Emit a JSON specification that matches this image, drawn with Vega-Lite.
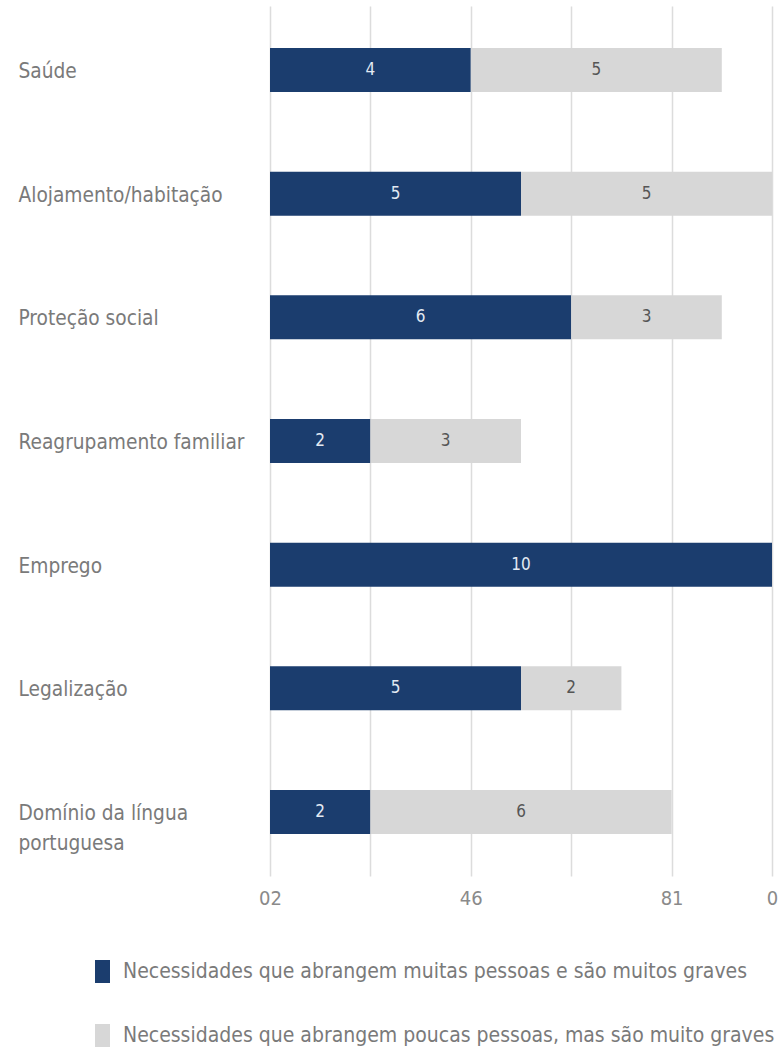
{
  "$schema": "https://vega.github.io/schema/vega-lite/v6.json",
  "width": 502,
  "height": 870,
  "autosize": {"type": "none"},
  "padding": {"left": 270, "top": 6, "right": 11, "bottom": 175},
  "background": "white",
  "data": {
    "values": [
      {"cat": "Saúde", "serie": "Necessidades que abrangem muitas pessoas e são muitos graves", "ord": 1, "v": 4},
      {"cat": "Saúde", "serie": "Necessidades que abrangem poucas pessoas, mas são muito graves", "ord": 2, "v": 5},
      {"cat": "Alojamento/habitação", "serie": "Necessidades que abrangem muitas pessoas e são muitos graves", "ord": 1, "v": 5},
      {"cat": "Alojamento/habitação", "serie": "Necessidades que abrangem poucas pessoas, mas são muito graves", "ord": 2, "v": 5},
      {"cat": "Proteção social", "serie": "Necessidades que abrangem muitas pessoas e são muitos graves", "ord": 1, "v": 6},
      {"cat": "Proteção social", "serie": "Necessidades que abrangem poucas pessoas, mas são muito graves", "ord": 2, "v": 3},
      {"cat": "Reagrupamento familiar", "serie": "Necessidades que abrangem muitas pessoas e são muitos graves", "ord": 1, "v": 2},
      {"cat": "Reagrupamento familiar", "serie": "Necessidades que abrangem poucas pessoas, mas são muito graves", "ord": 2, "v": 3},
      {"cat": "Emprego", "serie": "Necessidades que abrangem muitas pessoas e são muitos graves", "ord": 1, "v": 10},
      {"cat": "Legalização", "serie": "Necessidades que abrangem muitas pessoas e são muitos graves", "ord": 1, "v": 5},
      {"cat": "Legalização", "serie": "Necessidades que abrangem poucas pessoas, mas são muito graves", "ord": 2, "v": 2},
      {"cat": "Domínio da língua|portuguesa", "serie": "Necessidades que abrangem muitas pessoas e são muitos graves", "ord": 1, "v": 2},
      {"cat": "Domínio da língua|portuguesa", "serie": "Necessidades que abrangem poucas pessoas, mas são muito graves", "ord": 2, "v": 6}
    ]
  },
  "transform": [
    {"stack": "v", "groupby": ["cat"], "sort": [{"field": "ord"}], "as": ["v0", "v1"]},
    {"calculate": "(datum.v0 + datum.v1) / 2", "as": "vmid"}
  ],
  "config": {
    "view": {"stroke": null},
    "font": "DejaVu Sans Condensed, Roboto, sans-serif"
  },
  "encoding": {
    "y": {
      "field": "cat",
      "type": "nominal",
      "sort": null,
      "scale": {"paddingInner": 0.644, "paddingOuter": 0.34},
      "axis": {
        "title": null,
        "domain": false,
        "ticks": false,
        "labelAlign": "left",
        "labelPadding": 252,
        "labelFontSize": 20.7,
        "labelColor": "#7a7a7a",
        "labelFont": "DejaVu Sans Condensed, Roboto, sans-serif",
        "labelLineHeight": 30,
        "labelLimit": 300,
        "labelOffset": 2,
        "labelExpr": "split(datum.label, '|')"
      }
    }
  },
  "layer": [
    {
      "mark": {"type": "bar"},
      "encoding": {
        "x": {
          "field": "v0",
          "type": "quantitative",
          "scale": {"domain": [0, 10], "nice": false},
          "axis": {
            "title": null,
            "values": [0, 2, 4, 6, 8, 10],
            "domain": false,
            "ticks": false,
            "grid": true,
            "gridColor": "#dcdcdc",
            "gridWidth": 1.5,
            "labelFlush": false,
            "labelPadding": 12,
            "labelFontSize": 20,
            "labelColor": "#8a8a8a",
            "labelFont": "DejaVu Sans Condensed, Roboto, sans-serif",
            "labelExpr": "datum.value == 0 ? '02' : datum.value == 4 ? '46' : datum.value == 8 ? '81' : datum.value == 10 ? '0' : ''"
          }
        },
        "x2": {"field": "v1"},
        "color": {
          "field": "serie",
          "type": "nominal",
          "sort": null,
          "scale": {
            "domain": ["Necessidades que abrangem muitas pessoas e são muitos graves", "Necessidades que abrangem poucas pessoas, mas são muito graves"],
            "range": ["#1b3d6e", "#d7d7d7"]
          },
          "legend": {
            "title": null,
            "orient": "none",
            "legendX": -179,
            "legendY": 954,
            "padding": 0,
            "direction": "vertical",
            "symbolType": "M-0.65,-1L0.65,-1L0.65,1L-0.65,1Z",
            "symbolSize": 529,
            "symbolStrokeWidth": 0,
            "rowPadding": 41,
            "labelOffset": 9,
            "labelFontSize": 21,
            "labelColor": "#7a7a7a",
            "labelFont": "DejaVu Sans Condensed, Roboto, sans-serif",
            "labelLimit": 700
          }
        }
      }
    },
    {
      "mark": {"type": "text", "fontSize": 17, "baseline": "middle", "align": "center", "font": "DejaVu Sans Condensed, Roboto, sans-serif"},
      "encoding": {
        "x": {"field": "vmid", "type": "quantitative"},
        "text": {"field": "v", "type": "quantitative"},
        "color": {
          "condition": {"test": "datum.ord == 1", "value": "#e3eaf3"},
          "value": "#555555"
        }
      }
    }
  ]
}
